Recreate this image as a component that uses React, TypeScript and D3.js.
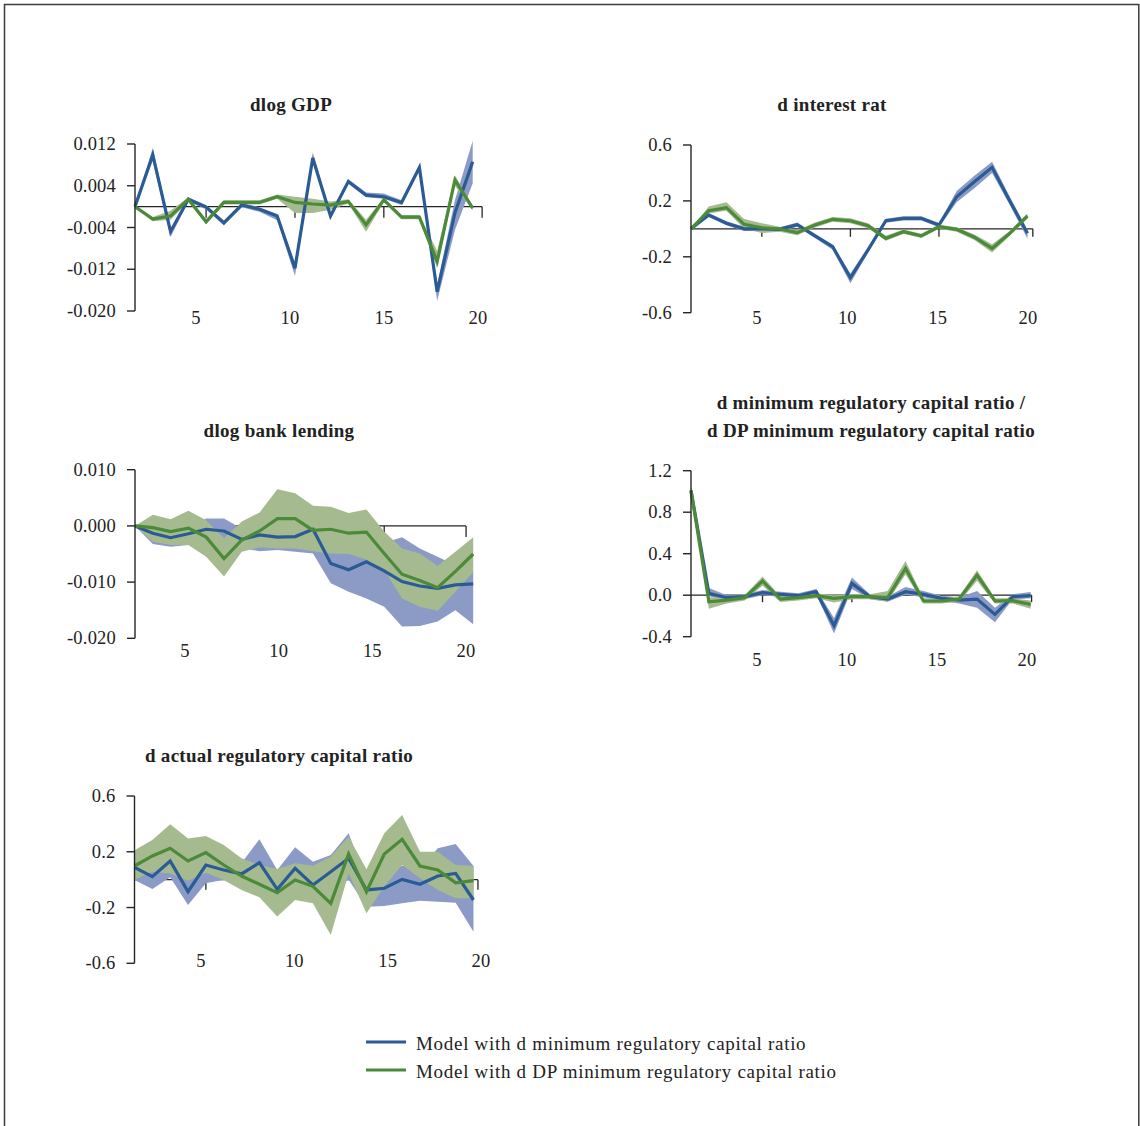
import React from 'react';
import * as d3 from 'd3';

// ---------- data ----------
const periods = d3.range(1, 21);
const xTickValues = [5, 10, 15];
const xLabelValues = [5, 10, 15, 20];

// Panel 1: dlog GDP
const gdpBlue = [0, 0.0099, -0.0048, 0.0014, -0.0001, -0.0031, 0.0003, -0.0005, -0.0018, -0.0118, 0.0093, -0.0018, 0.0048, 0.0022, 0.0019, 0.0008, 0.0075, -0.0163, -0.0012, 0.0086];
const gdpBlueLo = [0, 0.0088, -0.0058, 0.0010, -0.0005, -0.0036, -0.0001, -0.0010, -0.0026, -0.0133, 0.0086, -0.0023, 0.0044, 0.0018, 0.0015, 0.0003, 0.0070, -0.0181, -0.0045, 0.0045];
const gdpBlueHi = [0, 0.0113, -0.0042, 0.0018, 0.0003, -0.0027, 0.0007, -0.0001, -0.0014, -0.0108, 0.0104, -0.0013, 0.0053, 0.0027, 0.0025, 0.0012, 0.0080, -0.0150, 0.0012, 0.0126];
const gdpGreen = [0, -0.0024, -0.0018, 0.0014, -0.0029, 0.0008, 0.0008, 0.0008, 0.0019, 0.0008, 0.0005, 0.0003, 0.0010, -0.0035, 0.0013, -0.0020, -0.0020, -0.0105, 0.0051, -0.0003];
const gdpGreenLo = [0, -0.0028, -0.0025, 0.0010, -0.0034, 0.0004, 0.0004, 0.0004, 0.0015, -0.0012, -0.0012, -0.0006, 0.0006, -0.0048, 0.0009, -0.0024, -0.0024, -0.0118, 0.0040, -0.0007];
const gdpGreenHi = [0, -0.0020, -0.0008, 0.0018, -0.0024, 0.0012, 0.0012, 0.0012, 0.0023, 0.0019, 0.0015, 0.0010, 0.0014, -0.0025, 0.0017, -0.0016, -0.0016, -0.0085, 0.0060, 0.0001];
const gdpYTicks = [0.012, 0.004, -0.004, -0.012, -0.02];
const gdpYLabels = ['0.012', '0.004', '-0.004', '-0.012', '-0.020'];

// Panel 2: d interest rat
const rateBlue = [0, 0.099, 0.04, 0.0, 0.0, -0.004, 0.03, -0.05, -0.128, -0.35, -0.15, 0.058, 0.075, 0.075, 0.027, 0.23, 0.337, 0.44, 0.2, -0.032];
const rateBlueLo = [0, 0.084, 0.025, -0.015, -0.015, -0.019, 0.015, -0.065, -0.15, -0.39, -0.17, 0.043, 0.06, 0.06, 0.012, 0.19, 0.29, 0.40, 0.17, -0.07];
const rateBlueHi = [0, 0.114, 0.055, 0.015, 0.015, 0.011, 0.045, -0.035, -0.113, -0.32, -0.13, 0.073, 0.09, 0.09, 0.042, 0.27, 0.38, 0.48, 0.23, -0.01];
const rateGreen = [0, 0.13, 0.152, 0.032, 0.008, -0.001, -0.027, 0.027, 0.068, 0.058, 0.023, -0.068, -0.02, -0.05, 0.015, -0.004, -0.06, -0.14, -0.032, 0.092];
const rateGreenLo = [0, 0.11, 0.13, 0.0, -0.03, -0.02, -0.045, 0.01, 0.05, 0.04, 0.005, -0.085, -0.035, -0.065, 0.0, -0.02, -0.08, -0.17, -0.05, 0.075];
const rateGreenHi = [0, 0.16, 0.19, 0.07, 0.04, 0.015, -0.01, 0.045, 0.085, 0.075, 0.04, -0.05, -0.005, -0.035, 0.03, 0.012, -0.04, -0.11, -0.015, 0.11];
const rateYTicks = [0.6, 0.2, -0.2, -0.6];
const rateYLabels = ['0.6', '0.2', '-0.2', '-0.6'];

// Panel 3: dlog bank lending
const lendBlue = [0, -0.0013, -0.0021, -0.0014, -0.0006, -0.0009, -0.0024, -0.0016, -0.0020, -0.0019, -0.0006, -0.0067, -0.0078, -0.0064, -0.0080, -0.0099, -0.0107, -0.0111, -0.0105, -0.0103];
const lendBlueLo = [0, -0.0032, -0.0037, -0.0034, -0.0030, -0.0030, -0.0040, -0.0045, -0.0043, -0.0046, -0.0049, -0.0102, -0.0117, -0.0129, -0.0144, -0.0179, -0.0178, -0.0170, -0.0150, -0.0175];
const lendBlueHi = [0, -0.0005, -0.0010, -0.0005, 0.0013, 0.0013, -0.0005, 0.0000, -0.0005, -0.0005, 0.0000, -0.0045, -0.0048, -0.0045, -0.0030, -0.0020, -0.0040, -0.0055, -0.0070, -0.0081];
const lendGreen = [0, -0.0003, -0.0010, -0.0004, -0.0020, -0.0058, -0.0025, -0.0009, 0.0013, 0.0013, -0.0008, -0.0006, -0.0013, -0.0011, -0.0049, -0.0086, -0.0097, -0.0110, -0.0081, -0.0050];
const lendGreenLo = [0, -0.0028, -0.0034, -0.0034, -0.0055, -0.0090, -0.0046, -0.0038, -0.0040, -0.0040, -0.0045, -0.0049, -0.0050, -0.0060, -0.0078, -0.0129, -0.0144, -0.0151, -0.0117, -0.0082];
const lendGreenHi = [0, 0.0020, 0.0012, 0.0027, 0.0010, -0.0022, 0.0008, 0.0024, 0.0065, 0.0058, 0.0036, 0.0034, 0.0023, 0.0029, -0.0010, -0.0040, -0.0049, -0.0071, -0.0046, -0.0020];
const lendYTicks = [0.01, 0, -0.01, -0.02];
const lendYLabels = ['0.010', '0.000', '-0.010', '-0.020'];

// Panel 4: d minimum regulatory capital ratio
const minBlue = [1.01, 0.018, -0.024, -0.014, 0.024, 0.008, -0.005, 0.034, -0.295, 0.114, -0.014, -0.037, 0.034, 0.008, -0.03, -0.047, -0.037, -0.185, -0.014, -0.005];
const minBlueLo = [0.98, -0.01, -0.05, -0.04, 0.0, -0.017, -0.03, 0.01, -0.37, 0.06, -0.04, -0.062, 0.005, -0.02, -0.055, -0.08, -0.12, -0.26, -0.04, -0.03];
const minBlueHi = [1.04, 0.07, 0.0, 0.01, 0.05, 0.033, 0.02, 0.06, -0.22, 0.17, 0.01, -0.012, 0.08, 0.04, -0.005, -0.02, 0.04, -0.12, 0.01, 0.03];
const minGreen = [1.01, -0.063, -0.047, -0.024, 0.137, -0.037, -0.024, -0.005, -0.03, -0.014, -0.014, -0.024, 0.259, -0.056, -0.056, -0.037, 0.194, -0.056, -0.053, -0.088];
const minGreenLo = [0.98, -0.13, -0.08, -0.05, 0.09, -0.065, -0.05, -0.03, -0.07, -0.04, -0.04, -0.06, 0.2, -0.08, -0.08, -0.065, 0.14, -0.08, -0.08, -0.13];
const minGreenHi = [1.04, -0.02, -0.02, 0.0, 0.18, -0.01, 0.0, 0.02, 0.0, 0.01, 0.01, 0.04, 0.33, -0.03, -0.03, -0.01, 0.24, -0.03, -0.03, -0.05];
const minYTicks = [1.2, 0.8, 0.4, 0, -0.4];
const minYLabels = ['1.2', '0.8', '0.4', '0.0', '-0.4'];

// Panel 5: d actual regulatory capital ratio
const actBlue = [0.088, 0.022, 0.134, -0.086, 0.105, 0.069, 0.041, 0.122, -0.069, 0.081, -0.038, 0.057, 0.153, -0.074, -0.062, 0.002, -0.033, 0.026, 0.045, -0.146];
const actBlueLo = [-0.002, -0.067, 0.017, -0.182, -0.026, 0.0, -0.02, 0.0, -0.15, -0.03, -0.12, -0.08, 0.0, -0.194, -0.189, -0.17, -0.151, -0.158, -0.165, -0.373];
const actBlueHi = [0.14, 0.09, 0.18, 0.0, 0.17, 0.15, 0.12, 0.289, 0.07, 0.232, 0.129, 0.177, 0.332, -0.01, 0.05, 0.1, 0.08, 0.225, 0.256, 0.098];
const actGreen = [0.098, 0.17, 0.225, 0.134, 0.194, 0.105, 0.026, -0.033, -0.093, -0.002, -0.048, -0.17, 0.184, -0.086, 0.184, 0.289, 0.098, 0.069, -0.022, -0.007];
const actGreenLo = [0.0, 0.057, 0.045, -0.007, 0.05, -0.002, -0.074, -0.127, -0.265, -0.146, -0.17, -0.397, 0.045, -0.241, -0.05, 0.105, 0.01, -0.074, -0.134, -0.134];
const actGreenHi = [0.21, 0.284, 0.397, 0.296, 0.313, 0.249, 0.153, 0.105, 0.076, 0.117, 0.1, 0.165, 0.308, 0.074, 0.332, 0.464, 0.2, 0.2, 0.105, 0.098];
const actYTicks = [0.6, 0.2, -0.2, -0.6];
const actYLabels = ['0.6', '0.2', '-0.2', '-0.6'];

const legendLabels = [
  'Model with d minimum regulatory capital ratio',
  'Model with d DP minimum regulatory capital ratio',
];

// ---------- styles ----------
const FONT = "'Liberation Serif', 'Times New Roman', serif";
const BLUE = '#2b5b94';
const GREEN = '#4b8a38';
const BLUE_BAND = '#8c9bc5';
const GREEN_BAND = '#a5ba8f';
const AXIS = '#262626';
const TEXT = '#222';

type PanelCfg = {
  title: string[];
  titleX: number;
  titleY: number[];
  blue: number[]; blueLo: number[]; blueHi: number[];
  green: number[]; greenLo: number[]; greenHi: number[];
  yDomain: [number, number];
  yRange: [number, number];
  xRange: [number, number];
  yTicks: number[]; yLabels: string[];
  labelRange: [number, number];
  labelY: number;
  axisEnd: number;
  tickLen: number;
};

const panels: PanelCfg[] = [
  {
    title: ['dlog GDP'], titleX: 291, titleY: [104],
    blue: gdpBlue, blueLo: gdpBlueLo, blueHi: gdpBlueHi,
    green: gdpGreen, greenLo: gdpGreenLo, greenHi: gdpGreenHi,
    yDomain: [-0.02, 0.012], yRange: [311, 144], xRange: [135, 472.7],
    yTicks: gdpYTicks, yLabels: gdpYLabels,
    labelRange: [196, 478], labelY: 318, axisEnd: 20.53, tickLen: 11,
  },
  {
    title: ['d interest rat'], titleX: 832, titleY: [104],
    blue: rateBlue, blueLo: rateBlueLo, blueHi: rateBlueHi,
    green: rateGreen, greenLo: rateGreenLo, greenHi: rateGreenHi,
    yDomain: [-0.6, 0.6], yRange: [312.7, 145], xRange: [691, 1027.5],
    yTicks: rateYTicks, yLabels: rateYLabels,
    labelRange: [757, 1028], labelY: 318, axisEnd: 20.3, tickLen: 8,
  },
  {
    title: ['dlog bank lending'], titleX: 279, titleY: [430],
    blue: lendBlue, blueLo: lendBlueLo, blueHi: lendBlueHi,
    green: lendGreen, greenLo: lendGreenLo, greenHi: lendGreenHi,
    yDomain: [-0.02, 0.01], yRange: [638.3, 469.7], xRange: [135, 473.2],
    yTicks: lendYTicks, yLabels: lendYLabels,
    labelRange: [185, 466], labelY: 651, axisEnd: 19.6, tickLen: 11,
  },
  {
    title: ['d minimum regulatory capital ratio /', 'd DP minimum regulatory capital ratio'],
    titleX: 871, titleY: [402, 430],
    blue: minBlue, blueLo: minBlueLo, blueHi: minBlueHi,
    green: minGreen, greenLo: minGreenLo, greenHi: minGreenHi,
    yDomain: [-0.4, 1.2], yRange: [636.7, 470.7], xRange: [691, 1030.7],
    yTicks: minYTicks, yLabels: minYLabels,
    labelRange: [757, 1027], labelY: 660, axisEnd: 20.05, tickLen: 7,
  },
  {
    title: ['d actual regulatory capital ratio'], titleX: 279, titleY: [755],
    blue: actBlue, blueLo: actBlueLo, blueHi: actBlueHi,
    green: actGreen, greenLo: actGreenLo, greenHi: actGreenHi,
    yDomain: [-0.6, 0.6], yRange: [963.3, 796], xRange: [134.5, 473.5],
    yTicks: actYTicks, yLabels: actYLabels,
    labelRange: [201, 481], labelY: 961, axisEnd: 20.25, tickLen: 10,
  },
];

function Panel({ p }: { p: PanelCfg }) {
  const x = d3.scaleLinear().domain([1, 20]).range(p.xRange);
  const y = d3.scaleLinear().domain(p.yDomain).range(p.yRange);
  const lab = d3.scaleLinear().domain([5, 20]).range(p.labelRange);
  const area = (lo: number[], hi: number[]) =>
    d3.area<number>().x((d) => x(d)).y0((d, i) => y(lo[i])).y1((d, i) => y(hi[i]))(periods) || '';
  const line = (v: number[]) =>
    d3.line<number>().x((d) => x(d)).y((d, i) => y(v[i]))(periods) || '';
  const y0 = y(0);
  const ax = x(1);
  return (
    <g>
      {p.title.map((t, i) => (
        <text key={i} x={p.titleX} y={p.titleY[i]} textAnchor="middle" dominantBaseline="central"
          fontFamily={FONT} fontWeight="bold" fontSize={19} letterSpacing={0.3} fill={TEXT}>{t}</text>
      ))}
      {/* zero line with x ticks */}
      <line x1={ax} x2={x(p.axisEnd)} y1={y0} y2={y0} stroke={AXIS} strokeWidth={1.3} />
      {xTickValues.map((t) => (
        <line key={t} x1={x(t)} x2={x(t)} y1={y0} y2={y0 + p.tickLen} stroke={AXIS} strokeWidth={1.3} />
      ))}
      <line x1={x(p.axisEnd)} x2={x(p.axisEnd)} y1={y0} y2={y0 + p.tickLen} stroke={AXIS} strokeWidth={1.3} />
      {/* bands */}
      <path d={area(p.blueLo, p.blueHi)} fill={BLUE_BAND} />
      <path d={area(p.greenLo, p.greenHi)} fill={GREEN_BAND} />
      {/* lines */}
      <path d={line(p.blue)} fill="none" stroke={BLUE} strokeWidth={3.2} strokeLinejoin="miter" />
      <path d={line(p.green)} fill="none" stroke={GREEN} strokeWidth={3.2} strokeLinejoin="miter" />
      {/* y axis */}
      <line x1={ax} x2={ax} y1={y(p.yDomain[1])} y2={y(p.yDomain[0])} stroke={AXIS} strokeWidth={1.4} />
      {p.yTicks.map((t, i) => (
        <g key={t}>
          <line x1={ax - 8} x2={ax} y1={y(t)} y2={y(t)} stroke={AXIS} strokeWidth={1.4} />
          <text x={ax - 19} y={y(t)} textAnchor="end" dominantBaseline="central"
            fontFamily={FONT} fontSize={18.5} letterSpacing={0.2} fill={TEXT}>{p.yLabels[i]}</text>
        </g>
      ))}
      {xLabelValues.map((t) => (
        <text key={t} x={lab(t)} y={p.labelY} textAnchor="middle" dominantBaseline="central"
          fontFamily={FONT} fontSize={18.5} letterSpacing={0.2} fill={TEXT}>{t}</text>
      ))}
    </g>
  );
}

export default function App() {
  const legendColors = [BLUE, GREEN];
  const legendY = d3.scalePoint<number>().domain([0, 1]).range([1042, 1070]);
  return (
    <svg width={1140} height={1126} style={{ position: 'absolute', left: 0, top: 0, display: 'block', background: '#fff' }}>
      <rect x={0} y={0} width={1140} height={1126} fill="#fff" />
      <path d="M4.5,1126 V4.5 H1138.8 V1126" fill="none" stroke="#3c3c3c" strokeWidth={1.5} />
      {panels.map((p, i) => <Panel key={i} p={p} />)}
      {legendLabels.map((l, i) => (
        <g key={l}>
          <line x1={366} x2={406} y1={legendY(i)} y2={legendY(i)} stroke={legendColors[i]} strokeWidth={3} />
          <text x={416} y={(legendY(i) as number) + 1} dominantBaseline="central" fontFamily={FONT}
            fontSize={19} letterSpacing={0.7} fill={TEXT}>{l}</text>
        </g>
      ))}
    </svg>
  );
}
